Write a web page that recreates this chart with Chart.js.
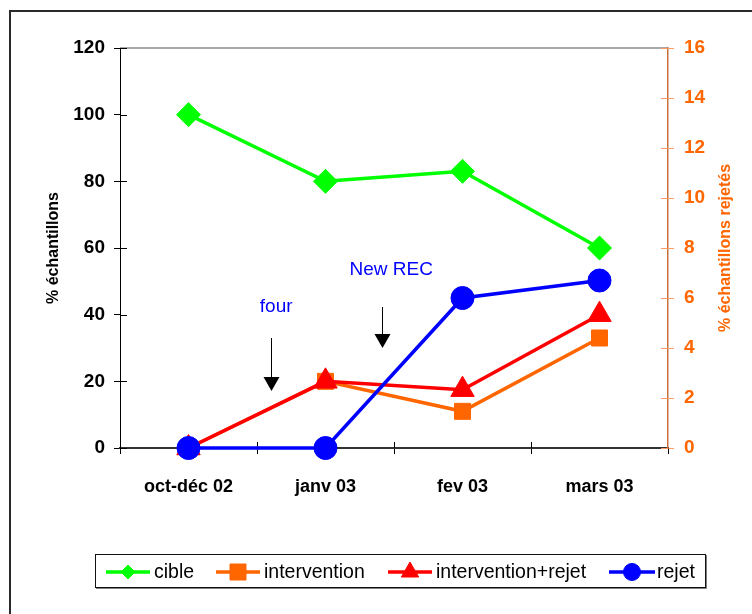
<!DOCTYPE html>
<html>
<head>
<meta charset="utf-8">
<script src="https://cdn.jsdelivr.net/npm/chart.js@4/dist/chart.umd.min.js"></script>
<style>
  html, body { margin: 0; padding: 0; background: #fff; }
  canvas { display: block; }
</style>
</head>
<body>
<canvas id="chart" width="752" height="614"></canvas>
<script>
// Periods on the x axis
const categories = ['oct-déc 02', 'janv 03', 'fev 03', 'mars 03'];

// Series on the left axis (% échantillons)
const cible = [100, 80, 83, 60];
const intervention = [0, 20, 11, 33];
const interventionRejet = [0, 20, 17.5, 40];

// Series on the right axis (% échantillons rejetés)
const rejet = [0, 0, 6, 6.7];

// Tick values of both value axes
const leftTicks = [0, 20, 40, 60, 80, 100, 120];
const rightTicks = [0, 2, 4, 6, 8, 10, 12, 14, 16];

// Event notes: x in category units, y in left-axis units
const noteLabels = ['four', 'New REC'];
const noteTextX = [0.64, 1.48];
const noteTextY = [42.3, 53.4];
const noteArrowX = [0.60, 1.41];
const noteArrowTop = [33, 42.3];
const noteArrowTip = [17.1, 30];

const FONT = "'Liberation Sans', Arial, Helvetica, sans-serif";
Chart.defaults.font.family = FONT;

const GREEN = '#00ff00', ORANGE = '#ff6600', RED = '#ff0000', BLUE = '#0000ff';
const LINE_W = 3.5;

function marker(ctx, style, x, y, r, color) {
  ctx.save();
  ctx.fillStyle = color;
  ctx.strokeStyle = color;
  ctx.lineWidth = 1;
  ctx.beginPath();
  if (style === 'rectRot') {
    ctx.moveTo(x - r, y); ctx.lineTo(x, y - r); ctx.lineTo(x + r, y); ctx.lineTo(x, y + r);
    ctx.closePath();
  } else if (style === 'rect') {
    ctx.rect(x - r, y - r, 2 * r, 2 * r);
  } else if (style === 'triangle') {
    const h = r * Math.sqrt(3) / 2;
    ctx.moveTo(x, y - r); ctx.lineTo(x + h, y + r / 2); ctx.lineTo(x - h, y + r / 2);
    ctx.closePath();
  } else {
    ctx.arc(x, y, r, 0, Math.PI * 2);
  }
  ctx.fill();
  ctx.stroke();
  ctx.restore();
}

// Legend layout (line start, line end, text start) and marker sizes
const legendItems = [
  { label: 'cible', color: GREEN, style: 'rectRot', r: 7, x0: 106, x1: 150, tx: 154 },
  { label: 'intervention', color: ORANGE, style: 'rect', r: 8, x0: 216, x1: 260, tx: 264 },
  { label: 'intervention+rejet', color: RED, style: 'triangle', r: 10, x0: 388, x1: 432, tx: 436 },
  { label: 'rejet', color: BLUE, style: 'circle', r: 8.5, x0: 609, x1: 655, tx: 657 }
];

const decor = {
  id: 'decor',
  beforeDraw(chart) {
    const ctx = chart.ctx;
    ctx.save();
    ctx.fillStyle = '#fff';
    ctx.fillRect(0, 0, chart.width, chart.height);
    // outer frame
    ctx.strokeStyle = '#2a2a2a';
    ctx.lineWidth = 2;
    ctx.beginPath();
    ctx.moveTo(10, chart.height);
    ctx.lineTo(10, 11);
    ctx.lineTo(chart.width, 11);
    ctx.stroke();
    ctx.restore();
  },
  beforeDatasetsDraw(chart) {
    const ctx = chart.ctx;
    const { left, right, top, bottom } = chart.chartArea;
    const sx = chart.scales.x, sy = chart.scales.y, sy1 = chart.scales.y1;
    ctx.save();
    // top edge of the plot
    ctx.strokeStyle = '#8c8c8c';
    ctx.lineWidth = 1.5;
    ctx.beginPath();
    ctx.moveTo(left, top);
    ctx.lineTo(right, top);
    ctx.stroke();
    // tick marks reaching into the plot
    ctx.lineWidth = 1;
    ctx.strokeStyle = '#000';
    ctx.beginPath();
    leftTicks.forEach(v => {
      const py = Math.round(sy.getPixelForValue(v)) + 0.5;
      ctx.moveTo(left, py); ctx.lineTo(left + 7, py);
    });
    for (let i = 1; i < categories.length; i++) {
      const px = Math.round(sx.getPixelForValue(i - 0.5)) + 0.5;
      ctx.moveTo(px, bottom); ctx.lineTo(px, bottom - 6);
    }
    ctx.stroke();
    ctx.strokeStyle = '#ff9966';
    ctx.beginPath();
    rightTicks.forEach(v => {
      const py = Math.round(sy1.getPixelForValue(v)) + 0.5;
      ctx.moveTo(right, py); ctx.lineTo(right - 7, py);
    });
    ctx.stroke();
    ctx.restore();
  },
  afterDraw(chart) {
    const ctx = chart.ctx;
    const { top, bottom } = chart.chartArea;
    const sx = chart.scales.x, sy = chart.scales.y;
    ctx.save();

    // right axis title, reading bottom to top
    ctx.fillStyle = ORANGE;
    ctx.font = 'bold 16px ' + FONT;
    ctx.textAlign = 'center';
    ctx.textBaseline = 'middle';
    ctx.translate(726, (top + bottom) / 2);
    ctx.rotate(-Math.PI / 2);
    ctx.fillText('% échantillons rejetés', 0, 0);
    ctx.setTransform(1, 0, 0, 1, 0, 0);

    // event notes with arrows
    ctx.font = '19px ' + FONT;
    noteLabels.forEach((txt, i) => {
      ctx.fillStyle = BLUE;
      ctx.fillText(txt, sx.getPixelForValue(noteTextX[i]), sy.getPixelForValue(noteTextY[i]));
      const ax = Math.round(sx.getPixelForValue(noteArrowX[i])) + 0.5;
      const y0 = sy.getPixelForValue(noteArrowTop[i]);
      const y1 = sy.getPixelForValue(noteArrowTip[i]);
      ctx.strokeStyle = '#000';
      ctx.lineWidth = 1;
      ctx.beginPath();
      ctx.moveTo(ax, y0);
      ctx.lineTo(ax, y1 - 12);
      ctx.stroke();
      ctx.fillStyle = '#000';
      ctx.beginPath();
      ctx.moveTo(ax - 8, y1 - 14);
      ctx.lineTo(ax + 8, y1 - 14);
      ctx.lineTo(ax, y1);
      ctx.closePath();
      ctx.fill();
    });

    // legend box with a light shadow
    ctx.fillStyle = '#fff';
    ctx.fillRect(95, 554, 610, 34);
    ctx.strokeStyle = '#808080';
    ctx.lineWidth = 1;
    ctx.beginPath();
    ctx.moveTo(96, 588.5); ctx.lineTo(706.5, 588.5); ctx.lineTo(706.5, 555);
    ctx.stroke();
    ctx.strokeStyle = '#111';
    ctx.strokeRect(95.5, 554.5, 610, 33);

    const ly = 572;
    ctx.textAlign = 'left';
    ctx.textBaseline = 'middle';
    ctx.font = '19.5px ' + FONT;
    legendItems.forEach(it => {
      ctx.strokeStyle = it.color;
      ctx.lineWidth = LINE_W;
      ctx.beginPath();
      ctx.moveTo(it.x0, ly); ctx.lineTo(it.x1, ly);
      ctx.stroke();
      marker(ctx, it.style, (it.x0 + it.x1) / 2, ly, it.r, it.color);
      ctx.fillStyle = '#000';
      ctx.fillText(it.label, it.tx, ly + 1);
    });
    ctx.restore();
  }
};

const tickFont = { family: FONT, size: 19, weight: 'bold' };

new Chart(document.getElementById('chart'), {
  type: 'line',
  data: {
    labels: categories,
    datasets: [
      { label: 'cible', data: cible, yAxisID: 'y', borderColor: GREEN, backgroundColor: GREEN,
        pointStyle: 'rectRot', pointRadius: 12, borderWidth: LINE_W, pointBorderWidth: 1, order: 3, clip: false },
      { label: 'intervention', data: intervention, yAxisID: 'y', borderColor: ORANGE, backgroundColor: ORANGE,
        pointStyle: 'rect', pointRadius: 11.3, borderWidth: LINE_W, pointBorderWidth: 1, order: 2, clip: false },
      { label: 'intervention+rejet', data: interventionRejet, yAxisID: 'y', borderColor: RED, backgroundColor: RED,
        pointStyle: 'triangle', pointRadius: 13.5, borderWidth: LINE_W, pointBorderWidth: 1, order: 1, clip: false },
      { label: 'rejet', data: rejet, yAxisID: 'y1', borderColor: BLUE, backgroundColor: BLUE,
        pointStyle: 'circle', pointRadius: 11.5, borderWidth: LINE_W, pointBorderWidth: 1, order: 0, clip: false }
    ]
  },
  options: {
    responsive: false,
    animation: false,
    events: [],
    layout: { padding: { top: 48, left: 0, right: 0, bottom: 0 } },
    elements: { line: { tension: 0 } },
    plugins: { legend: { display: false }, tooltip: { enabled: false } },
    scales: {
      x: {
        offset: true,
        grid: { offset: true, drawOnChartArea: false, tickLength: 6, color: '#000', lineWidth: 1 },
        border: { color: '#333', width: 2 },
        ticks: { color: '#000', font: { family: FONT, size: 18, weight: 'bold' }, padding: 22, maxRotation: 0, autoSkip: false },
        afterFit: s => { s.height = 166; }
      },
      y: {
        position: 'left',
        min: 0, max: 120,
        afterBuildTicks: s => { s.ticks = leftTicks.map(v => ({ value: v })); },
        grid: { drawOnChartArea: false, tickLength: 6, color: '#000', lineWidth: 1 },
        border: { color: '#000', width: 1 },
        ticks: { color: '#000', font: tickFont, padding: 9 },
        title: { display: true, text: '% échantillons', color: '#000',
          font: { family: FONT, size: 16, weight: 'bold' }, padding: { top: 44, bottom: 0 } },
        afterFit: s => { s.width = 120; }
      },
      y1: {
        position: 'right',
        min: 0, max: 16,
        afterBuildTicks: s => { s.ticks = rightTicks.map(v => ({ value: v })); },
        grid: { drawOnChartArea: false, tickLength: 6, color: '#ff9966', lineWidth: 1 },
        border: { color: '#c8703a', width: 1.5 },
        ticks: { color: ORANGE, font: tickFont, padding: 10 },
        afterFit: s => { s.width = 84; }
      }
    }
  },
  plugins: [decor]
});
</script>
</body>
</html>
